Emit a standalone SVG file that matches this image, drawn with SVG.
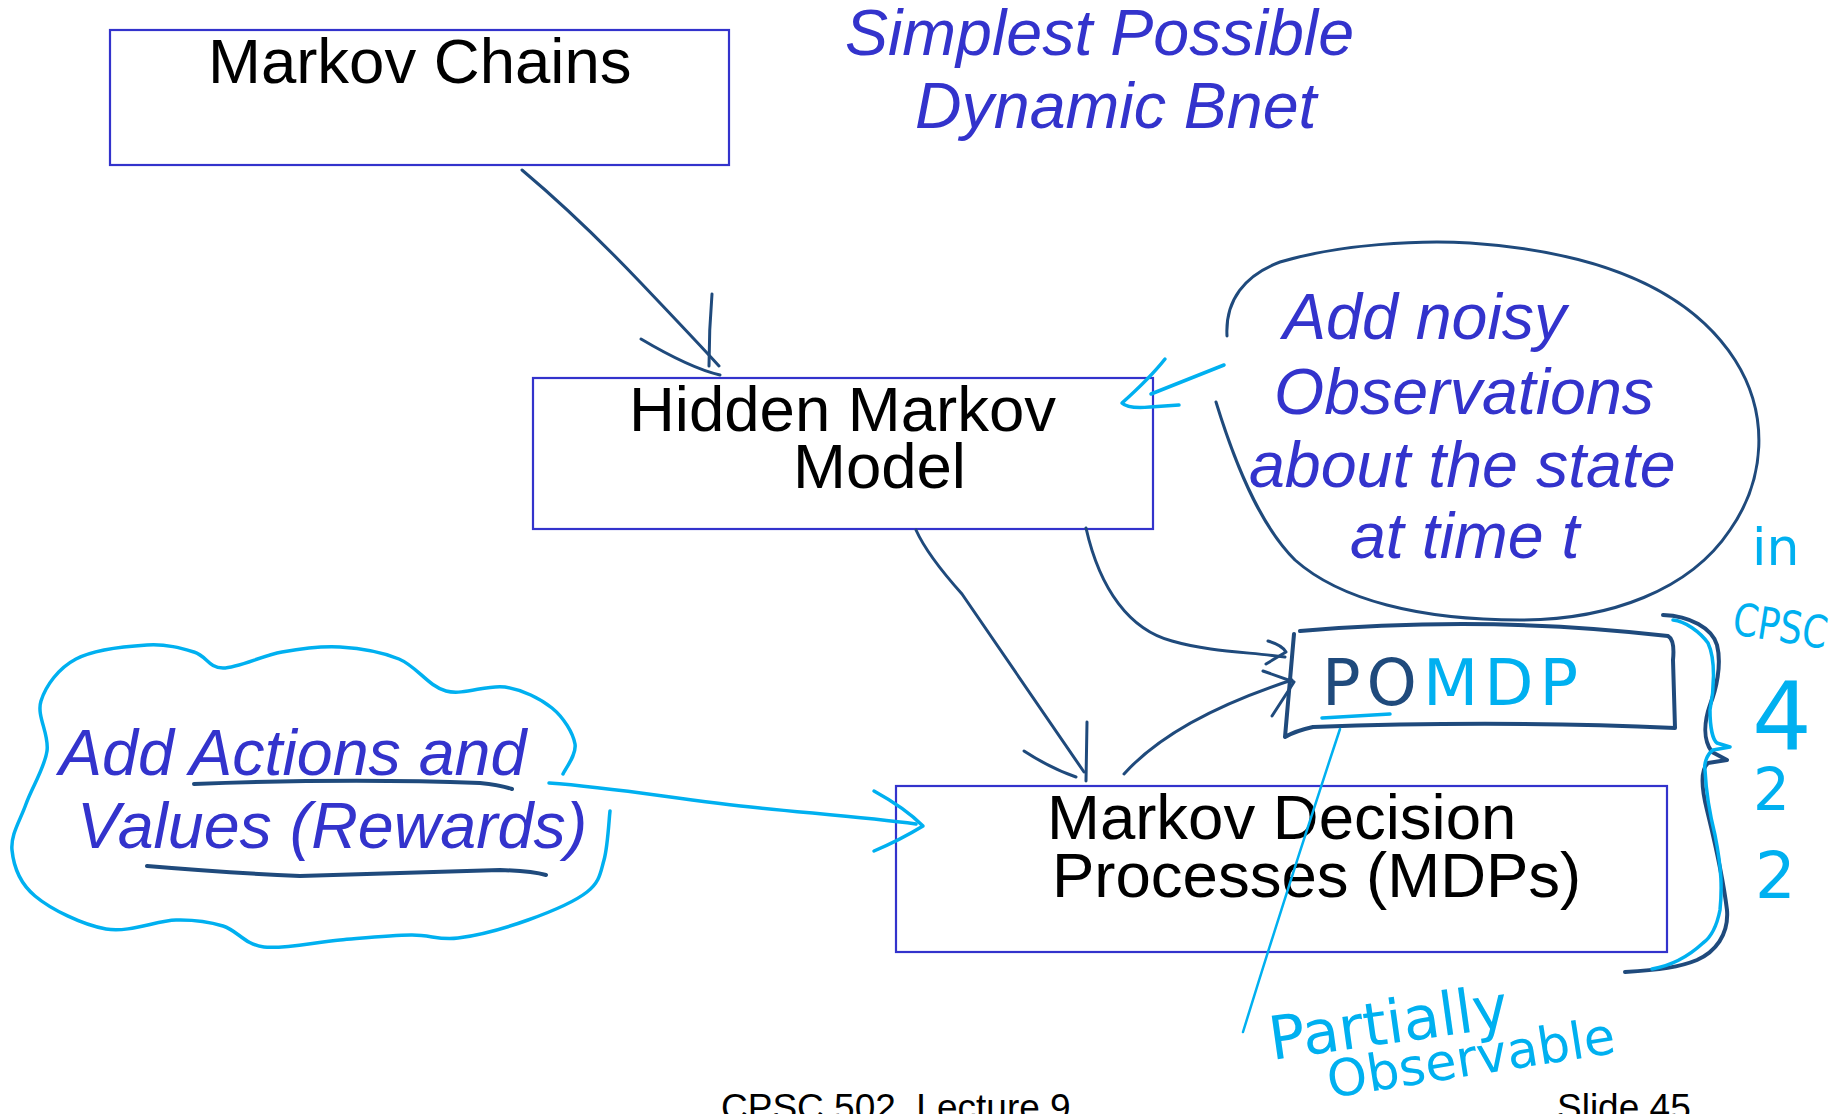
<svg xmlns="http://www.w3.org/2000/svg" width="1839" height="1114" viewBox="0 0 1839 1114">
<defs>
<style>
.box{fill:none;stroke:#3333cc;stroke-width:2.2}
.lbl{font-family:"Liberation Sans",Arial,sans-serif;font-size:63.5px;fill:#000}
.note{font-family:"Liberation Sans",Arial,sans-serif;font-style:italic;font-size:64.5px;fill:#3333cc}
.ink{fill:none;stroke:#1f4a7c;stroke-width:3;stroke-linecap:round;stroke-linejoin:round}
.inkb{fill:none;stroke:#1f4a7c;stroke-width:4;stroke-linecap:round;stroke-linejoin:round}
.cy{fill:none;stroke:#00b0f0;stroke-width:3.5;stroke-linecap:round;stroke-linejoin:round}
.hand{font-family:"DejaVu Sans","Liberation Sans",sans-serif;fill:#00b0f0}
.foot{font-family:"Liberation Sans",Arial,sans-serif;font-size:37px;fill:#000}
</style>
</defs>
<rect width="1839" height="1114" fill="#fff"/>

<g id="title">
<text class="note" x="845" y="55">Simplest Possible</text>
<text class="note" x="915" y="128">Dynamic Bnet</text>
</g>

<g id="node-markov-chains">
<rect class="box" x="110" y="30" width="619" height="135"/>
<text class="lbl" x="208" y="83">Markov Chains</text>
</g>

<g id="node-hmm">
<rect class="box" x="533" y="378" width="620" height="151"/>
<text class="lbl" x="629" y="431">Hidden Markov</text>
<text class="lbl" x="793" y="488">Model</text>
</g>

<g id="node-mdp">
<rect class="box" x="896" y="786" width="771" height="166"/>
<text class="lbl" x="1047" y="839">Markov Decision</text>
<text class="lbl" x="1052" y="897">Processes (MDPs)</text>
</g>

<g id="node-bubble">
<path class="ink" d="M1227,336 C1225,300 1245,275 1280,262 C1340,244 1420,240 1470,243 C1600,252 1690,290 1735,360 C1770,415 1765,480 1730,530 C1690,590 1610,620 1520,620 C1420,620 1340,600 1295,560 C1265,530 1240,480 1216,402"/>
<text class="note" x="1283" y="339">Add noisy</text>
<text class="note" x="1274" y="414">Observations</text>
<text class="note" x="1249" y="487">about the state</text>
<text class="note" x="1350" y="558">at time t</text>
</g>

<g id="node-cloud">
<path class="cy" d="M563,774 C565,769 576.8,755 575,744 C573,733 563.7,717.5 552,708 C540.3,698.5 522.7,689.8 505,687 C487.3,684.2 463.7,695.7 446,691 C428.3,686.3 416.7,666.3 399,659 C381.3,651.7 359.5,648.2 340,647 C320.5,645.8 301.5,648.5 282,652 C262.5,655.5 237.7,668 223,668 C208.3,668 206.7,655.8 194,652 C181.3,648.2 166.7,643.8 147,645 C127.3,646.2 93.7,649.7 76,659 C58.3,668.3 45.8,685.7 41,701 C36.2,716.3 49.5,733.8 47,751 C44.5,768.2 31.8,787.5 26,804 C20.2,820.5 10.5,834.7 12,850 C13.5,865.3 19.3,882.8 35,896 C50.7,909.2 82.5,925 106,929 C129.5,933 156.5,920.5 176,920 C195.5,919.5 208.3,921.5 223,926 C237.7,930.5 244.5,944.7 264,947 C283.5,949.3 315.5,942 340,940 C364.5,938 391.3,935.3 411,935 C430.7,934.7 438.5,940.5 458,938 C477.5,935.5 506.5,927.7 528,920 C549.5,912.3 574.3,902 587,892 C599.7,882 600.2,873.5 604,860 C607.8,846.5 609,819.2 610,811"/>
<text class="note" x="59" y="775">Add Actions and</text>
<text class="note" x="77" y="848">Values (Rewards)</text>
<path class="inkb" d="M194,784 Q350,778 480,783 Q500,785 512,789"/>
<path class="inkb" d="M147,866 Q230,873 300,876 Q420,872 500,870 Q532,871 546,875"/>
</g>

<g id="node-pomdp">
<path class="inkb" d="M1300,631 Q1490,615 1668,636 Q1675,640 1673,660 L1675,728 Q1500,720 1313,727 Q1295,731 1285,737 Q1289,690 1294,634"/>
<text x="1322" y="705" font-family="DejaVu Sans,Liberation Sans,sans-serif" font-size="64" letter-spacing="6"><tspan fill="#1f4a7c">PO</tspan><tspan fill="#00b0f0">MDP</tspan></text>
<path class="cy" d="M1322,718 Q1355,716 1390,714"/>
</g>

<g id="connectors">
<path class="ink" d="M522,170 C560,202 600,240 640,282 S700,345 719,366"/>
<path class="ink" d="M712,294 Q709,330 709,366"/>
<path class="ink" d="M641,339 Q690,368 720,375"/>

<path class="ink" d="M916,530 C925,550 945,575 962,594 L1084,772"/>
<path class="ink" d="M1087,722 L1086,781"/>
<path class="ink" d="M1024,751 Q1050,768 1076,777"/>

<path class="ink" d="M1086,528 C1100,590 1130,630 1172,641 C1210,652 1250,652 1285,657"/>
<path class="ink" d="M1268,641 Q1282,645 1286,652 Q1276,658 1266,664"/>

<path class="ink" d="M1124,774 C1150,745 1200,710 1292,680"/>
<path class="ink" d="M1263,671 L1294,682 L1272,716"/>

<path class="cy" d="M1224,365 L1151,394"/>
<path class="cy" d="M1165,359 Q1150,378 1122,403 Q1128,409 1150,407 L1179,405"/>

<path class="cy" d="M549,783 C620,788 680,800 760,808 C820,814 870,818 916,824"/>
<path class="cy" d="M874,791 Q905,808 923,826 Q900,840 874,851"/>

<path class="cy" style="stroke-width:2.5" d="M1340,729 Q1290,880 1243,1032"/>
</g>

<g id="annotations">
<path class="inkb" d="M1663,615 C1690,616 1712,628 1717,645 C1722,665 1716,690 1710,705 C1704,722 1703,740 1712,752 L1727,760 L1708,763 C1700,770 1702,790 1707,810 C1713,835 1722,870 1727,910 C1729,935 1715,952 1697,960 C1680,967 1660,970 1625,972"/>
<path class="cy" d="M1673,620 C1685,621 1700,632 1708,643 C1716,660 1714,690 1710,710 C1710,728 1713,740 1717,743 L1730,747 L1713,750 C1706,755 1704,765 1705,770 C1706,790 1710,815 1715,835 C1722,870 1722,890 1720,910 C1716,930 1710,938 1703,943 C1690,955 1675,965 1652,969"/>
<text class="hand" x="1752" y="565" font-size="52">in</text>
<text class="hand" x="1731" y="634" font-size="45" textLength="95" lengthAdjust="spacingAndGlyphs" transform="rotate(9 1731 634)">CPSC</text>
<text class="hand" x="1752" y="749" font-size="94">4</text>
<text class="hand" x="1753" y="810" font-size="58">2</text>
<text class="hand" x="1755" y="898" font-size="64">2</text>
<text class="hand" x="1272" y="1060" font-size="60" transform="rotate(-8 1272 1060)">Partially</text>
<text class="hand" x="1330" y="1098" font-size="51" transform="rotate(-9 1330 1098)">Observable</text>
</g>

<g id="footer">
<text class="foot" x="721" y="1120">CPSC 502, Lecture 9</text>
<text class="foot" x="1557" y="1120">Slide 45</text>
</g>
</svg>
